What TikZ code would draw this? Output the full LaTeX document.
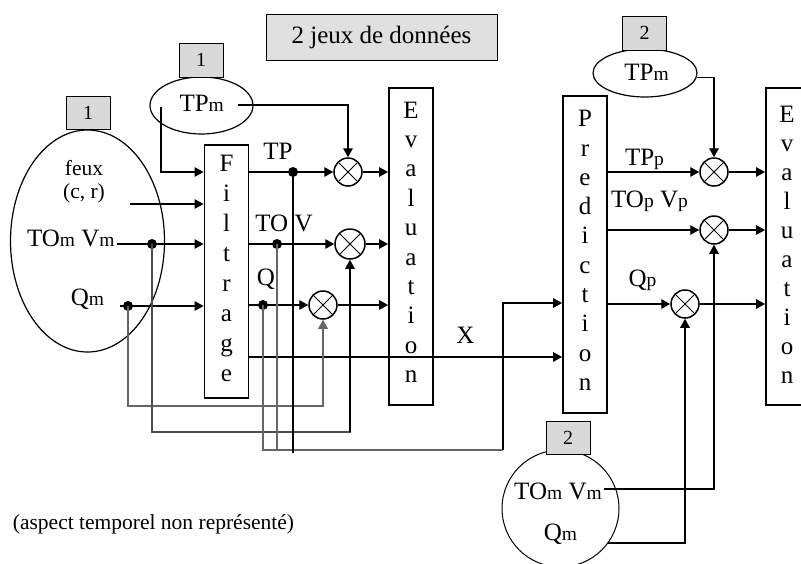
\documentclass[tikz,border=0pt]{standalone}
\usepackage{fontspec}
\setmainfont{Liberation Serif}
\usetikzlibrary{arrows.meta,shapes.geometric}
\newcommand{\sm}[1]{{\fontsize{19.5}{20}\selectfont #1}}
\begin{document}
\begin{tikzpicture}[x=1pt,y=-1pt,
  big/.style={font=\fontsize{25}{28}\selectfont, inner sep=0},
  small/.style={font=\fontsize{21.5}{24}\selectfont, inner sep=0},
  blk/.style={draw, line width=1.8pt, minimum width=44pt, inner sep=0},
  ell/.style={ellipse, draw, line width=1.2pt, inner sep=0},
  mult/.style={circle, draw, line width=1.5pt, minimum size=28pt, inner sep=0,
    path picture={\draw[line width=0.9pt] (path picture bounding box.north west)--(path picture bounding box.south east)
      (path picture bounding box.north east)--(path picture bounding box.south west);}},
  dot/.style={circle, fill, inner sep=0, minimum size=10pt},
  arr/.style={-{Triangle[length=9pt,width=9.5pt]}, line width=1.4pt},
  wire/.style={line width=1.4pt},
  gwire/.style={line width=1.3pt, draw=black!60},
  tag/.style={draw, line width=1pt, fill=black!15, minimum width=44pt, minimum height=33pt, inner sep=0, font=\fontsize{20}{22}\selectfont},
]
\useasboundingbox (0,0) rectangle (801,563);

% title
\node[draw, line width=1pt, fill=black!12, minimum width=231pt, minimum height=46pt, inner sep=0,
  font=\fontsize{25}{28}\selectfont] (title) at (381.5,37) {2 jeux de donn\'ees};

% left source ellipse
\node[ell, minimum width=154pt, minimum height=222pt] (src1) at (87.5,241) {};
\node[tag] (tag1a) at (88,112.5) {1};
\node[small, anchor=base] (feux) at (84,175) {feux};
\node[small, anchor=base] (cr) at (84,198) {(c, r)};
\node[big, anchor=base] (tomvm1) at (70.8,246.7) {TO\sm{m} V\sm{m}};
\node[big, anchor=base] (qm1) at (87.5,305) {Q\sm{m}};

% left TPm ellipse
\node[ell, minimum width=103pt, minimum height=57pt] (tp1) at (201.5,105.5) {};
\node[tag, minimum height=34pt] (tag1b) at (201,60) {1};
\node[big, anchor=base] (tp1t) at (201.7,111) {TP\sm{m}};

% blocks
\node[blk, minimum height=253pt] (filt) at (226.5,271.5) {};
\foreach \c [count=\i from 0] in {F,i,l,t,r,a,g,e}
  \node[big, anchor=base] (filt-\i) at (226.5,171.7+30*\i) {\c};
\node[blk, minimum height=317pt] (eval1) at (411,246.5) {};
\foreach \c [count=\i from 0] in {E,v,a,l,u,a,t,i,o,n}
  \node[big, anchor=base] (evalA-\i) at (411,118+29.4*\i) {\c};
\node[blk, minimum height=317pt] (pred) at (585,254.5) {};
\foreach \c [count=\i from 0] in {P,r,e,d,i,c,t,i,o,n}
  \node[big, anchor=base] (pred-\i) at (585,126.7+29.3*\i) {\c};
\node[blk, minimum height=317pt] (eval2) at (788,246.5) {};
\foreach \c [count=\i from 0] in {E,v,a,l,u,a,t,i,o,n}
  \node[big, anchor=base] (evalB-\i) at (787,122+29*\i) {\c};

% right TPm ellipse
\node[ell, minimum width=104pt, minimum height=48pt] (tp2) at (645,73) {};
\node[tag, minimum height=34pt] (tag2a) at (644.7,33) {2};
\node[big, anchor=base] (tp2t) at (646.5,80) {TP\sm{m}};

% bottom source circle
\node[circle, draw, line width=1pt, minimum size=117pt, inner sep=0] (src2) at (560.5,508.5) {};
\node[tag] (tag2b) at (568,437.5) {2};
\node[big, anchor=base] (tomvm2) at (558,499) {TO\sm{m} V\sm{m}};
\node[big, anchor=base] (qm2) at (560.5,540) {Q\sm{m}};

% multipliers
\node[mult] (m1) at (348,172) {};
\node[mult, minimum size=30pt] (m2) at (350,244) {};
\node[mult] (m3) at (323,305) {};
\node[mult] (m4) at (714,172) {};
\node[mult] (m5) at (714,230) {};
\node[mult] (m6) at (685,304) {};

% branch dots
\node[dot] (d1) at (293,172) {};
\node[dot] (d2) at (277,244) {};
\node[dot] (d3) at (263,305) {};
\node[dot] (dL1) at (152,244) {};
\node[dot] (dL2) at (128,306) {};

% auxiliary points
\coordinate (tp1a) at (161,107);
\coordinate (tp1r) at (238,105);
\coordinate (feuxA) at (130,204);
\coordinate (tomA) at (117,244);
\coordinate (qmA) at (120,306);
\coordinate (xA) at (249,357);
\coordinate (yb1) at (0,406);
\coordinate (yb2) at (0,432);
\coordinate (busA) at (503,450);
\coordinate (qin) at (503,303);
\coordinate (tp2r) at (697,77.7);
\coordinate (c2a) at (604,489);
\coordinate (c2b) at (608,543);

% inputs to Filtrage
\draw[arr] (tp1a) |- (d1 -| filt.west);
\draw[arr] (feuxA) -- (feuxA -| filt.west);
\draw[arr] (tomA) -- (dL1 -| filt.west);
\draw[arr] (qmA) -- (dL2 -| filt.west);

% outputs of Filtrage
\draw[arr] (d1 -| filt.east) -- (m1.west);
\draw[arr] (d2 -| filt.east) -- (m2.west);
\draw[arr] (d3 -| filt.east) -- (m3.west);
\draw[arr] (xA) -- (xA -| pred.west);
\draw[arr] (m1.east) -- (m1 -| eval1.west);
\draw[arr] (m2.east) -- (m2 -| eval1.west);
\draw[arr] (m3.east) -- (m3 -| eval1.west);
\draw[arr] (tp1r) -| (m1.north);

% measurements to multipliers
\draw[gwire] (dL2.center) -- (dL2 |- yb1) -| ([yshift=-1pt]m3.south);
\draw[arr, draw=black!60] (m3 |- yb1) -- (m3.south);
\draw[wire, draw=black!70] (dL1.center) -- (dL1 |- yb2) -| ([yshift=-1pt]m2.south);
\draw[arr] (m2 |- yb2) -- (m2.south);

% bus to Prediction
\draw[gwire] (d3.center) |- (busA);
\draw[gwire] (d2.center) -- (d2 |- busA);
\draw[wire] (d1.center) -- ([yshift=-3pt]d1 |- busA);
\draw[arr] (busA) -- (qin) -- (qin -| pred.west);

% Prediction outputs
\draw[arr] (m4 -| pred.east) -- (m4.west);
\draw[arr] (m5 -| pred.east) -- (m5.west);
\draw[arr] (m6 -| pred.east) -- (m6.west);
\draw[arr] (m4.east) -- (m4 -| eval2.west);
\draw[arr] (m5.east) -- (m5 -| eval2.west);
\draw[arr] (m6.east) -- (m6 -| eval2.west);
\draw[arr] (tp2r) -| (m4.north);
\draw[arr] (c2a) -| (m5.south);
\draw[arr] (c2b) -| (m6.south);

% labels
\node[big] (lTP) at (278,151.5) {TP};
\node[big] (lTOV) at (284,223) {TO V};
\node[big] (lQ) at (266,279) {Q};
\node[big] (lX) at (465.5,335.5) {X};
\node[big, anchor=base] (lTPp) at (644.5,165) {TP\sm{p}};
\node[big, anchor=base] (lTOVp) at (649.5,207) {TO\sm{p} V\sm{p}};
\node[big, anchor=base] (lQp) at (642.5,286.7) {Q\sm{p}};

\node[small, anchor=base] (note) at (153.5,529) {(aspect temporel non repr\'esent\'e)};
\end{tikzpicture}
\end{document}
